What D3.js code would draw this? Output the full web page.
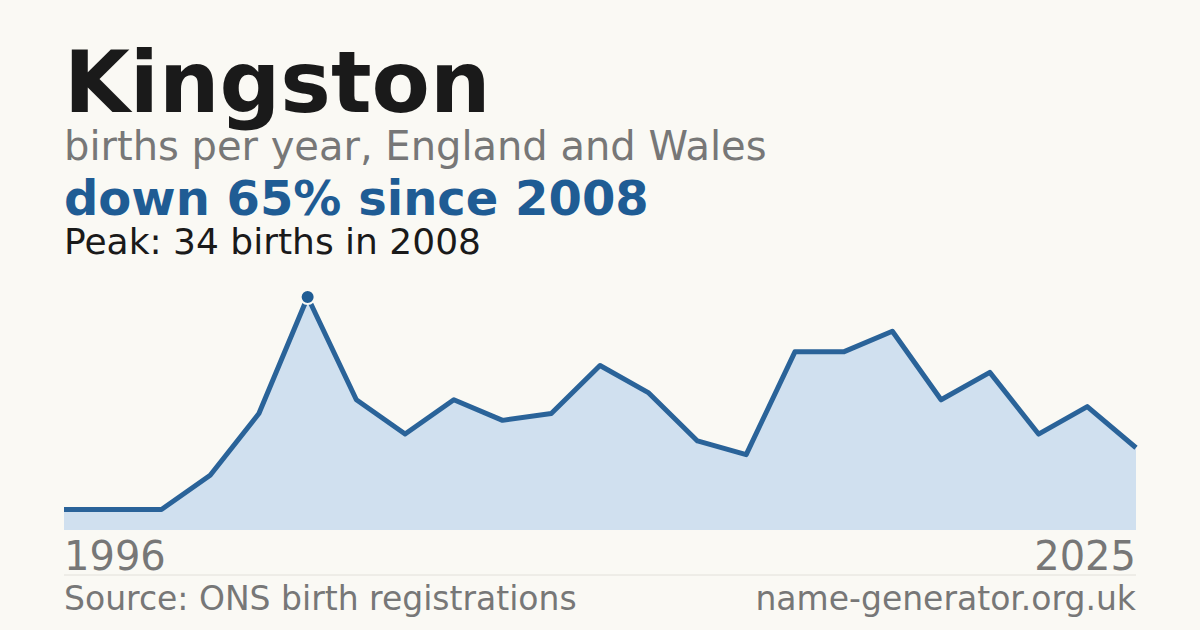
<!DOCTYPE html>
<html><head><meta charset="utf-8">
<script src="https://cdn.jsdelivr.net/npm/d3@7"></script>
<style>body{margin:0;background:#faf9f4}svg{display:block}</style>
</head><body>
<svg id="chart" width="1200" height="630"></svg>
<script>
// data
const births = [3,3,3,8,17,34,19,14,19,16,17,24,20,13,11,26,26,29,19,23,14,18,12];
const peakIndex = 5;
const axisLabels = ["1996", "2025"];

const svg = d3.select("#chart");
const font = "DejaVu Sans, sans-serif";
svg.append("rect").attr("width", 1200).attr("height", 630).attr("fill", "#faf9f4");

// titles
const txt = (x, y, s, size, fill, weight, anchor) => svg.append("text")
    .attr("x", x).attr("y", y).attr("font-family", font).attr("font-size", size)
    .attr("fill", fill).attr("font-weight", weight || "normal")
    .attr("text-anchor", anchor || "start").text(s);
txt(64, 112, "Kingston", 85, "#1a1a1a", "bold");
txt(64, 160, "births per year, England and Wales", 40, "#777");
txt(64, 215, "down 65% since 2008", 48, "#1f5c94", "bold");
txt(64, 254, "Peak: 34 births in 2008", 36, "#1a1a1a");

// scales
const x = d3.scaleLinear().domain([0, births.length - 1]).range([64, 1136]);
const y = d3.scaleLinear().domain([0, 34]).range([530, 297]);

svg.append("path").datum(births)
    .attr("d", d3.area().x((d, i) => x(i)).y0(y(0)).y1(d => y(d)))
    .attr("fill", "#d0e0ef");
svg.append("path").datum(births)
    .attr("d", d3.line().x((d, i) => x(i)).y(d => y(d)))
    .attr("fill", "none").attr("stroke", "#2a6399").attr("stroke-width", 5)
    .attr("stroke-linejoin", "round");
svg.append("circle").attr("cx", x(peakIndex)).attr("cy", y(births[peakIndex]))
    .attr("r", 7).attr("fill", "#1f5c94").attr("stroke", "#faf9f4").attr("stroke-width", 2);

// axis labels
txt(64, 570, axisLabels[0], 40, "#777");
txt(1136, 570, axisLabels[1], 40, "#777", "normal", "end");
svg.append("line").attr("x1", 64).attr("x2", 1136).attr("y1", 575).attr("y2", 575)
    .attr("stroke", "#e2e0da").attr("stroke-width", 1);

// footer
txt(64, 610, "Source: ONS birth registrations", 33, "#777");
txt(1136, 610, "name-generator.org.uk", 33, "#777", "normal", "end");
</script>
</body></html>
